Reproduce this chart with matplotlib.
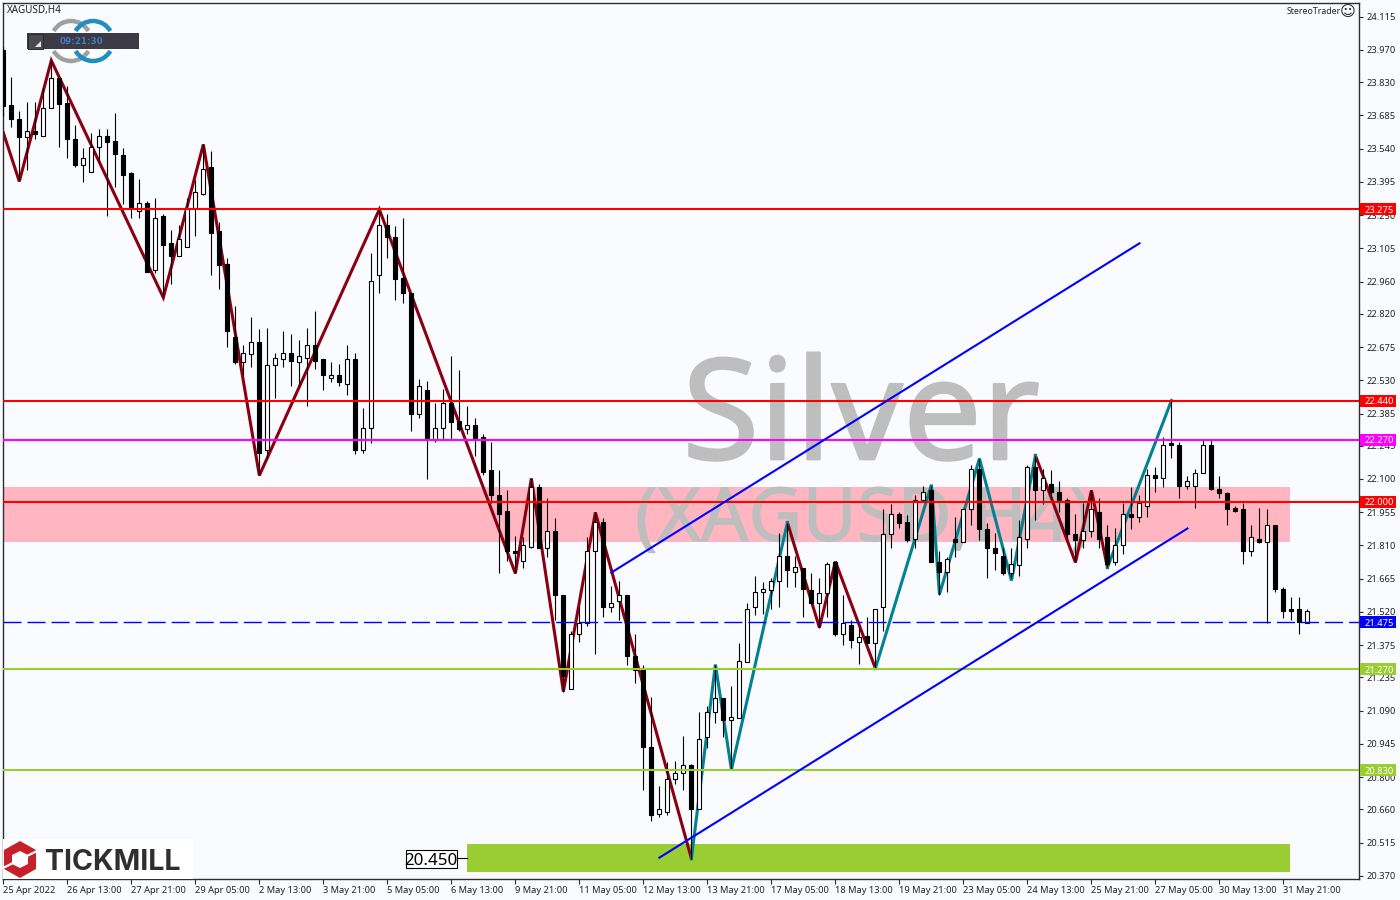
import matplotlib
matplotlib.use("Agg")
import matplotlib.pyplot as plt
import matplotlib.patheffects as pe
from matplotlib.patches import Rectangle, Polygon, Arc
from matplotlib.transforms import blended_transform_factory

highs = [
 23.985,23.850,23.702,23.741,23.741,23.802,23.924,23.846,23.815,23.641,
 23.541,23.610,23.624,23.624,23.693,23.541,23.436,23.406,23.310,23.323,
 23.257,23.183,23.205,23.323,23.401,23.558,23.528,23.222,23.061,22.852,
 22.682,22.804,22.752,22.760,22.647,22.743,22.730,22.704,22.760,22.834,
 22.621,22.608,22.603,22.682,22.647,22.411,23.087,23.270,23.257,23.201,
 23.236,22.909,22.534,22.525,22.433,22.490,22.638,22.573,22.420,22.364,
 22.298,22.263,22.141,22.050,21.853,21.845,22.102,22.080,22.019,21.928,
 21.596,21.439,21.540,21.845,21.954,21.928,21.635,21.653,21.596,21.426,
 21.291,21.151,20.763,20.868,20.872,20.981,20.859,21.086,21.108,21.291,
 21.143,21.199,21.383,21.561,21.679,21.649,21.666,21.866,21.910,21.766,
 21.710,21.688,21.666,21.736,21.740,21.592,21.483,21.452,21.496,21.535,
 21.967,21.989,21.954,21.941,22.032,22.071,22.071,21.784,21.758,21.936,
 21.967,22.159,22.189,21.910,21.866,21.797,21.801,21.919,22.159,22.202,
 22.145,22.141,22.089,22.015,21.945,21.997,22.050,22.015,21.901,21.884,
 21.993,22.067,22.032,22.145,22.154,22.281,22.442,22.263,22.111,22.145,
 22.276,22.276,22.111,22.041,21.984,21.993,21.901,21.975,21.967,21.901,
 21.631,21.587,21.587,21.531]
lows = [
 23.680,23.632,23.397,23.445,23.580,23.597,23.715,23.549,23.501,23.458,
 23.393,23.436,23.488,23.244,23.371,23.297,23.236,23.236,23.000,22.996,
 22.891,22.948,23.070,23.113,23.157,23.336,22.991,22.926,22.677,22.603,
 22.551,22.586,22.115,22.189,22.451,22.590,22.507,22.507,22.416,22.581,
 22.486,22.521,22.503,22.468,22.207,22.211,22.255,22.909,23.065,22.882,
 22.869,22.311,22.364,22.098,22.259,22.272,22.272,22.311,22.298,22.198,
 22.119,21.993,21.692,21.744,21.688,21.710,21.801,21.797,21.758,21.483,
 21.173,21.186,21.387,21.461,21.339,21.496,21.522,21.483,21.287,21.212,
 20.746,20.611,20.628,20.637,20.768,20.746,20.445,20.663,20.929,21.038,
 20.973,20.833,21.060,21.300,21.505,21.513,21.535,21.540,21.631,21.627,
 21.500,21.557,21.452,21.496,21.417,21.378,21.365,21.295,21.383,21.274,
 21.435,21.797,21.884,21.827,21.801,22.006,21.740,21.596,21.609,21.758,
 21.823,21.897,21.832,21.666,21.701,21.683,21.666,21.679,21.797,21.923,
 21.989,22.015,21.958,21.840,21.736,21.797,21.849,21.801,21.714,21.723,
 21.771,21.880,21.914,21.932,22.045,22.067,22.193,22.019,22.058,21.975,
 22.124,22.050,22.015,21.901,21.958,21.731,21.766,21.819,21.474,21.609,
 21.492,21.487,21.426,21.474]
opens = [
 23.968,23.728,23.671,23.589,23.615,23.597,23.715,23.846,23.737,23.580,
 23.467,23.436,23.549,23.593,23.571,23.510,23.432,23.266,23.301,23.009,
 23.244,23.127,23.070,23.113,23.279,23.340,23.458,23.179,23.039,22.717,
 22.608,22.643,22.695,22.224,22.595,22.621,22.647,22.608,22.629,22.682,
 22.621,22.538,22.555,22.516,22.621,22.228,22.320,22.991,23.209,23.153,
 22.974,22.909,22.385,22.486,22.268,22.320,22.433,22.351,22.316,22.337,
 22.281,22.137,22.032,21.962,21.788,21.744,21.805,22.063,21.797,21.875,
 21.596,21.186,21.426,21.474,21.784,21.914,21.540,21.566,21.596,21.330,
 21.274,20.933,20.641,20.646,20.794,20.820,20.851,20.663,20.973,21.082,
 21.143,21.051,21.060,21.300,21.540,21.605,21.614,21.653,21.762,21.696,
 21.710,21.614,21.561,21.601,21.736,21.426,21.465,21.391,21.417,21.383,
 21.540,21.858,21.945,21.914,21.836,22.006,22.050,21.740,21.696,21.840,
 21.823,21.967,22.145,21.880,21.801,21.766,21.688,21.723,21.840,22.154,
 22.050,22.080,22.045,22.006,21.862,21.832,21.871,21.958,21.845,21.736,
 21.810,21.949,21.932,21.980,22.119,22.106,22.255,22.246,22.071,22.071,
 22.128,22.246,22.058,22.037,21.975,21.971,21.788,21.840,21.827,21.897,
 21.622,21.535,21.535,21.474]
closes = [
 23.724,23.671,23.589,23.615,23.602,23.715,23.846,23.733,23.584,23.467,
 23.501,23.549,23.593,23.567,23.515,23.427,23.283,23.301,23.004,23.236,
 23.118,23.070,23.144,23.283,23.349,23.449,23.174,23.031,22.743,22.608,
 22.651,22.695,22.215,22.595,22.629,22.647,22.612,22.638,22.686,22.616,
 22.555,22.555,22.521,22.621,22.228,22.324,22.961,23.209,23.153,22.970,
 22.909,22.381,22.507,22.268,22.324,22.433,22.346,22.316,22.337,22.276,
 22.132,22.028,21.949,21.784,21.775,21.810,22.063,21.797,21.875,21.592,
 21.239,21.426,21.474,21.784,21.914,21.540,21.561,21.596,21.326,21.265,
 20.933,20.637,20.659,20.794,20.820,20.851,20.663,20.968,21.086,21.143,
 21.047,21.064,21.308,21.535,21.605,21.618,21.653,21.766,21.701,21.714,
 21.618,21.557,21.601,21.731,21.422,21.470,21.396,21.413,21.383,21.535,
 21.862,21.945,21.910,21.832,22.006,22.045,21.740,21.696,21.753,21.823,
 21.967,22.145,21.880,21.801,21.779,21.688,21.731,21.845,22.154,22.050,
 22.102,22.045,22.006,21.862,21.832,21.875,21.967,21.840,21.731,21.810,
 21.949,21.932,21.997,22.119,22.102,22.250,22.246,22.071,22.093,22.128,
 22.246,22.054,22.037,21.971,21.962,21.784,21.845,21.827,21.897,21.618,
 21.526,21.526,21.478,21.526]

x_tick_labels = ["25 Apr 2022","26 Apr 13:00","27 Apr 21:00","29 Apr 05:00","2 May 13:00",
    "3 May 21:00","5 May 05:00","6 May 13:00","9 May 21:00","11 May 05:00","12 May 13:00",
    "13 May 21:00","17 May 05:00","18 May 13:00","19 May 21:00","23 May 05:00",
    "24 May 13:00","25 May 21:00","27 May 05:00","30 May 13:00","31 May 21:00"]
y_tick_labels = ["24.115","23.970","23.830","23.685","23.540","23.395","23.250","23.105",
    "22.960","22.820","22.675","22.530","22.385","22.245","22.100","21.955","21.810",
    "21.665","21.520","21.375","21.235","21.090","20.945","20.800","20.660","20.515","20.370"]

red_zig = [([0,2,6,20,25,32,47,64,66,70,74,86],
            [23.610,23.397,23.924,22.891,23.558,22.115,23.275,21.688,22.102,21.173,21.954,20.445]),
           ([98,102,104,109],[21.910,21.452,21.740,21.274]),
           ([129,134,136,138],[22.202,21.736,22.050,21.714])]
teal_zig = [([86,89,91,98],[20.445,21.291,20.833,21.910]),
            ([109,116,117,122,126,129],[21.274,22.075,21.596,22.189,21.657,22.202]),
            ([138,146],[21.714,22.442])]
trend_upper = ([76,142],[21.692,23.127])
trend_lower = ([82,148],[20.449,21.884])
level_lines = [(23.275,"#FF0000","23.275","-"),(22.440,"#FF0000","22.440","-"),
               (22.270,"#FF00FF","22.270","-"),(22.000,"#FF0000","22.000","-"),
               (21.475,"#0000FF","21.475","dash"),(21.270,"#9ACD32","21.270","-"),
               (20.830,"#9ACD32","20.830","-")]
pink_zone = (-0.05,160.8,21.827,22.067)
green_zone = (58,160.8,20.388,20.510)
green_level = 20.450

BG = "#F9FBFE"
SANS = ["Noto Sans","DejaVu Sans"]
plt.rcParams["font.family"] = SANS
W,H = 1400,900
fig = plt.figure(figsize=(14,9),dpi=100,facecolor=BG)
L,R,T,B = 2.7,1359.5,2.7,879.0
ax = fig.add_axes([L/W,1-B/H,(R-L)/W,(B-T)/H],facecolor=BG)
ax.set_xlim(-0.075,169.5)
ax.set_ylim(20.356,24.176)

# zones and watermark
ax.add_patch(Rectangle((pink_zone[0],pink_zone[2]),pink_zone[1]-pink_zone[0],pink_zone[3]-pink_zone[2],
                       fc="#FFB6C1",ec="none",zorder=1))
ax.add_patch(Rectangle((green_zone[0],green_zone[2]),green_zone[1]-green_zone[0],green_zone[3]-green_zone[2],
                       fc="#9ACD32",ec="none",zorder=1))
thick = [pe.withStroke(linewidth=1.6,foreground="#BEBEBE")]
ax.text(107.2,22.345,"Silver",fontsize=101,color="#BEBEBE",ha="center",va="center",zorder=1.5,
        family="Noto Sans",path_effects=thick)
ax.text(107.5,21.915,"(XAGUSD,H4)",fontsize=53.5,color="#BEBEBE",ha="center",va="center",zorder=1.5,
        family="Noto Sans",path_effects=[pe.withStroke(linewidth=0.8,foreground="#BEBEBE")])

# zigzags
for xs,ys in red_zig:
    ax.plot(xs,ys,color="#8B0010",lw=2.2,zorder=2,solid_joinstyle="miter")
for xs,ys in teal_zig:
    ax.plot(xs,ys,color="#008290",lw=2.2,zorder=2,solid_joinstyle="miter")

# candles
xs = list(range(len(closes)))
ax.vlines(xs,lows,highs,color="black",lw=0.8,zorder=3)
for i in xs:
    up = closes[i] >= opens[i]
    ax.bar(i,abs(closes[i]-opens[i]),bottom=min(opens[i],closes[i]),width=0.5,
           color="white" if up else "black",edgecolor="black",linewidth=0.8,zorder=4)

# levels
tr = blended_transform_factory(ax.transAxes,ax.transData)
for val,col,txt,st in level_lines:
    if st=="dash":
        ax.axhline(val,color=col,lw=1.0,dashes=(13,4.3),zorder=5)
    else:
        ax.axhline(val,color=col,lw=1.5,zorder=5)
    ax.add_patch(Rectangle((1.0007,val-0.026),36/(R-L),0.052,transform=tr,fc=col,ec="none",clip_on=False,zorder=10))
    ax.text(1.0035,val,txt,transform=tr,color="white",fontsize=6.7,va="center_baseline",ha="left",zorder=11,clip_on=False)

# trend lines
for tx,ty in (trend_upper,trend_lower):
    ax.plot(tx,ty,color="#0000FF",lw=1.5,zorder=6)

# axes
for s in ax.spines.values():
    s.set_color("#2E2E2E"); s.set_linewidth(1.0)
ax.yaxis.tick_right()
ax.set_yticks([float(v) for v in y_tick_labels],y_tick_labels)
ax.set_xticks(list(range(0,164,8)),x_tick_labels)
ax.tick_params(axis="y",length=3,width=0.8,color="#2E2E2E",pad=2,labelsize=6.7,labelcolor="#222222")
ax.tick_params(axis="x",length=3.5,width=0.8,color="#2E2E2E",pad=1.5,labelsize=6.7,labelcolor="#222222")
for t in ax.get_xticklabels():
    t.set_ha("left")

# pixel overlay for decorations
ov = fig.add_axes([0,0,1,1],facecolor="none")
ov.set_xlim(0,W); ov.set_ylim(H,0); ov.axis("off")
ov.text(7,10.5,"XAGUSD,H4",fontsize=7.1,color="#222222",va="center")
ov.text(1341,12,"StereoTrader",fontsize=6.3,color="#222222",va="center",ha="right")
ov.text(1348,11.5,"\u263A",fontsize=11,color="#222222",va="center",ha="center",family="DejaVu Sans")
# ring logo
for cx,col in ((71,"#A0A0A0"),(93,"#1E8FBF")):
    for a,b in ((30,150),(210,330)):
        ov.add_patch(Arc((cx,41),40,40,theta1=a,theta2=b,color=col,lw=3.2))
ov.add_patch(Rectangle((27,33),112,16,fc="#3C3A44",ec="none"))
ov.add_patch(Rectangle((27.5,33.5),15,15,fc="#4A4850",ec="#2A2A30",lw=0.7))
ov.add_patch(Polygon([(41,47),(35,47),(41,41)],fc="#E6E6E6",ec="none"))
ov.text(82,41,"09:21:30",fontsize=6.3,weight="bold",color="#3F7FBF",ha="center",va="center_baseline",family="DejaVu Sans")
# tickmill logo
ov.add_patch(Rectangle((3.2,839),190,39.5,fc="white",ec="none"))
ov.add_patch(Polygon([(20,841),(36,850),(36,869),(20,878),(4,869),(4,850)],fc="#C8202A",ec="none"))
ov.add_patch(Polygon([(20,851),(28,855),(28,864),(20,868),(12,864),(12,855)],fc="white",ec="none"))
ov.plot([27,37],[856,851],color="white",lw=1.6)
ov.plot([13,3],[863,868],color="white",lw=1.6)
ov.text(45,859.5,"TICKMILL",fontsize=20.6,weight="bold",color="#2F2F2F",va="center_baseline",family="Inter")
# 20.450 label
ov.plot([457,467],[858,858],color="black",lw=0.8)
ov.add_patch(Rectangle((405.5,849.5),51,18,fc="white",ec="black",lw=0.8))
ov.text(431,858.7,f"{green_level:.3f}",fontsize=12.2,color="black",ha="center",va="center_baseline")

fig.savefig("out.png",dpi=100,facecolor=BG)
